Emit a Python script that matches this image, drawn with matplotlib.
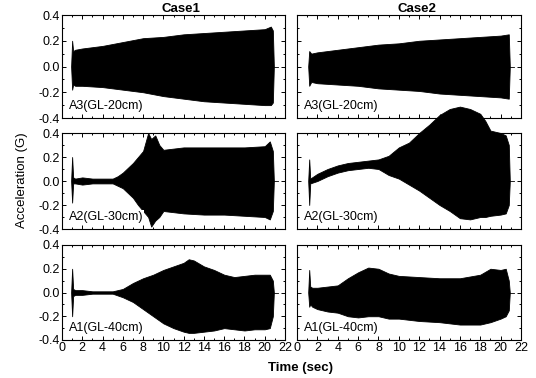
import matplotlib
matplotlib.use("Agg")
import matplotlib.pyplot as plt
from matplotlib.ticker import MultipleLocator

plt.rcParams['font.family'] = ['Liberation Sans', 'DejaVu Sans']

# Envelope of each acceleration record (upper / lower peaks)
c1_a3_t = [0.9, 1.0, 1.1, 1.3, 2, 4, 6, 8, 10, 12, 14, 16, 18, 20, 20.6, 20.8, 20.9]
c1_a3_up = [0.0, 0.2, 0.12, 0.13, 0.14, 0.16, 0.19, 0.22, 0.23, 0.25, 0.26, 0.27, 0.28, 0.29, 0.31, 0.28, 0.0]
c1_a3_lo = [0.0, -0.18, -0.14, -0.15, -0.15, -0.16, -0.18, -0.2, -0.23, -0.25, -0.27, -0.28, -0.29, -0.3, -0.3, -0.28, 0.0]

c2_a3_t = [1.1, 1.2, 1.4, 2, 4, 6, 8, 10, 12, 14, 16, 18, 20, 20.8, 20.9]
c2_a3_up = [0, 0.12, 0.1, 0.11, 0.13, 0.15, 0.17, 0.18, 0.2, 0.21, 0.22, 0.23, 0.24, 0.25, 0]
c2_a3_lo = [0, -0.15, -0.12, -0.13, -0.14, -0.15, -0.17, -0.18, -0.19, -0.21, -0.22, -0.23, -0.24, -0.25, 0]

c1_a2_t = [0.9, 1.0, 1.1, 1.3, 2, 3, 4, 5, 5.5, 6, 6.5, 7, 7.5, 8, 8.5, 8.8, 9.2, 9.6, 10, 11, 12, 14, 16, 18, 20, 20.5, 20.8, 20.9]
c1_a2_up = [0, 0.2, 0.03, 0.02, 0.03, 0.02, 0.02, 0.02, 0.04, 0.07, 0.11, 0.15, 0.2, 0.25, 0.4, 0.35, 0.38, 0.3, 0.26, 0.27, 0.28, 0.28, 0.28, 0.28, 0.29, 0.33, 0.25, 0]
c1_a2_lo = [0, -0.18, -0.02, -0.02, -0.03, -0.02, -0.02, -0.02, -0.04, -0.06, -0.1, -0.14, -0.2, -0.25, -0.3, -0.38, -0.33, -0.3, -0.25, -0.26, -0.27, -0.28, -0.28, -0.29, -0.3, -0.32, -0.25, 0]

c2_a2_t = [1.1, 1.2, 1.3, 2, 3, 4, 5, 6, 7, 8, 9, 10, 11, 12, 13, 14, 15, 16, 17, 18, 18.5, 19, 20, 20.5, 20.8, 20.9]
c2_a2_up = [0, 0.18, 0.02, 0.06, 0.1, 0.13, 0.15, 0.16, 0.17, 0.18, 0.21, 0.28, 0.32, 0.4, 0.47, 0.55, 0.6, 0.62, 0.6, 0.56, 0.5, 0.42, 0.4, 0.38, 0.3, 0]
c2_a2_lo = [0, -0.2, -0.02, 0.0, 0.04, 0.07, 0.09, 0.1, 0.11, 0.1, 0.05, 0.02, -0.03, -0.08, -0.14, -0.2, -0.25, -0.31, -0.32, -0.3, -0.3, -0.29, -0.28, -0.27, -0.2, 0]

c1_a1_t = [0.9, 1.0, 1.1, 1.3, 2, 3, 4, 5, 6, 7, 8, 9, 10, 11, 12, 12.5, 13, 14, 15, 16, 17, 18, 19, 20, 20.5, 20.8, 20.9]
c1_a1_up = [0, 0.2, 0.03, 0.02, 0.02, 0.01, 0.01, 0.01, 0.03, 0.08, 0.12, 0.15, 0.19, 0.22, 0.25, 0.28, 0.27, 0.22, 0.19, 0.15, 0.13, 0.14, 0.15, 0.15, 0.15, 0.1, 0]
c1_a1_lo = [0, -0.2, -0.03, -0.02, -0.02, -0.01, -0.01, -0.01, -0.04, -0.08, -0.14, -0.2, -0.26, -0.3, -0.33, -0.34, -0.34, -0.33, -0.32, -0.3, -0.31, -0.32, -0.31, -0.31, -0.3, -0.2, 0]

c2_a1_t = [1.1, 1.2, 1.3, 1.5, 2, 3, 4, 5, 6, 7, 8, 9, 10, 12, 14, 16, 18, 19, 20, 20.5, 20.8, 20.9]
c2_a1_up = [0, 0.19, 0.05, 0.04, 0.04, 0.05, 0.06, 0.12, 0.17, 0.21, 0.2, 0.16, 0.14, 0.13, 0.12, 0.12, 0.15, 0.2, 0.19, 0.2, 0.1, 0]
c2_a1_lo = [0, -0.12, -0.1, -0.12, -0.14, -0.16, -0.17, -0.2, -0.21, -0.2, -0.2, -0.22, -0.22, -0.24, -0.25, -0.27, -0.27, -0.25, -0.22, -0.2, -0.15, 0]

case_titles = ["Case1", "Case2"]
sensor_labels = ["A3(GL-20cm)", "A2(GL-30cm)", "A1(GL-40cm)"]

records = [
    [(c1_a3_t, c1_a3_up, c1_a3_lo), (c2_a3_t, c2_a3_up, c2_a3_lo)],
    [(c1_a2_t, c1_a2_up, c1_a2_lo), (c2_a2_t, c2_a2_up, c2_a2_lo)],
    [(c1_a1_t, c1_a1_up, c1_a1_lo), (c2_a1_t, c2_a1_up, c2_a1_lo)],
]

W, H = 536, 378
fig = plt.figure(figsize=(W / 100, H / 100), dpi=100)

# panel boxes in pixels: (left, right) and (top, bottom)
col_x = [(62, 285), (297, 521)]
row_y = [(15, 118), (133, 229), (245, 340)]

for r in range(3):
    for c in range(2):
        x0, x1 = col_x[c]
        y0, y1 = row_y[r]
        ax = fig.add_axes([x0 / W, 1 - y1 / H, (x1 - x0) / W, (y1 - y0) / H])
        t, up, lo = records[r][c]
        # Case2 A2 overshoots the top of its frame in the original
        overshoot = (r == 1 and c == 1)
        ax.fill_between(t, lo, up, color="black", lw=0.6, edgecolor="black",
                        clip_on=not overshoot, zorder=3)
        ax.plot([t[-1], 21.3], [0, 0], color="black", lw=0.6)
        ax.set_xlim(0, 22)
        ax.set_ylim(-0.4, 0.4)
        ax.xaxis.set_major_locator(MultipleLocator(2))
        ax.xaxis.set_minor_locator(MultipleLocator(1))
        ax.yaxis.set_major_locator(MultipleLocator(0.2))
        ax.yaxis.set_minor_locator(MultipleLocator(0.1))
        ax.tick_params(which="both", direction="in", top=True, right=True,
                       labelsize=9, pad=1.5, width=0.7)
        ax.tick_params(which="major", length=3)
        ax.tick_params(which="minor", length=1.5)
        for s in ax.spines.values():
            s.set_linewidth(0.8)
        ax.yaxis.set_major_formatter(plt.FuncFormatter(lambda v, p: "%.1f" % v))
        if c == 1:
            ax.set_yticklabels([])
        if r < 2:
            ax.set_xticklabels([])
        ax.text(0.03, 0.06, sensor_labels[r], transform=ax.transAxes,
                fontsize=9, ha="left", va="bottom", zorder=4,
                bbox=dict(facecolor="white", edgecolor="none", pad=0.5))
        if r == 0:
            ax.set_title(case_titles[c], fontsize=9.5, fontweight="bold",
                         pad=1, x=0.535)

fig.text(22 / W, 1 - 180 / H, "Acceleration (G)", rotation=90, fontsize=9.5,
         ha="center", va="center")
fig.text(300 / W, 1 - 368 / H, "Time (sec)", fontsize=9.5, fontweight="bold",
         ha="center", va="center")

fig.savefig("out.png", dpi=100)
